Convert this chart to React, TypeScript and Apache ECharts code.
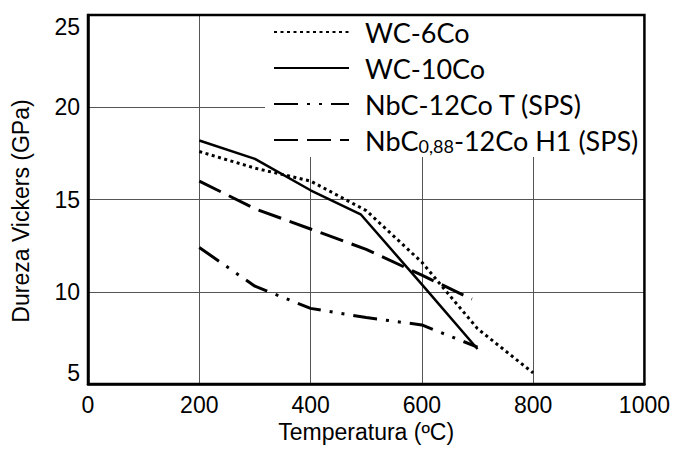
import React, { useEffect, useRef } from "react";
import * as echarts from "echarts";

const xTicks = [0, 200, 400, 600, 800, 1000];
const yTicks = [5, 10, 15, 20, 25];

const seriesNames = [
  "WC-6Co",
  "WC-10Co",
  "NbC-12Co T (SPS)",
  "NbC0,88-12Co H1 (SPS)",
];

const wc6Temp = [200, 300, 400, 500, 600, 700, 800];
const wc6Hv = [17.6, 16.7, 16.0, 14.4, 11.6, 8.0, 5.6];

const wc10Temp = [200, 300, 400, 490, 600, 700];
const wc10Hv = [18.2, 17.2, 15.5, 14.2, 10.4, 6.9];

const nbcTTemp = [200, 300, 400, 500, 600, 700];
const nbcTHv = [12.4, 10.3, 9.1, 8.6, 8.2, 7.0];

const nbc88Temp = [200, 300, 400, 500, 600, 690];
const nbc88Hv = [16.0, 14.5, 13.4, 12.3, 10.9, 9.6];

const zip = (xs: number[], ys: number[]) => xs.map((x, i) => [x, ys[i]]);

export default function App() {
  const ref = useRef<HTMLDivElement>(null);
  useEffect(() => {
    if (!ref.current) return;
    const chart = echarts.init(ref.current, undefined, { renderer: "svg" });
    const axisFont = { fontFamily: "Liberation Sans", fontSize: 23, color: "#000" };
    const mkLine = (type: any, width = 2.5) => ({ color: "#000", width, type });
    const base = {
      type: "line",
      symbol: "none",
      showSymbol: false,
      itemStyle: { color: "#000" },
    };
    chart.setOption({
      animation: false,
      backgroundColor: "#fff",
      grid: {
        left: 88,
        top: 15,
        right: 24,
        bottom: 68,
        show: true,
        z: 3,
        borderColor: "#000",
        borderWidth: 2.5,
        backgroundColor: "transparent",
      },
      legend: {
        orient: "vertical",
        left: 265,
        top: 16,
        z: 1,
        backgroundColor: "#fff",
        padding: [1, 6, 2, 8],
        itemWidth: 75,
        itemHeight: 14,
        itemGap: 6,
        itemStyle: { opacity: 0 },
        data: seriesNames,
        formatter: (name: string) =>
          name === seriesNames[3] ? "NbC{sub|0,88}-12Co H1 (SPS)" : name,
        textStyle: {
          fontFamily: "Lato",
          fontSize: 27,
          color: "#000",
          lineHeight: 30,
          padding: [0, 0, 0, 11],
          rich: {
            sub: {
              fontFamily: "Lato",
              fontSize: 18,
              color: "#000",
              verticalAlign: "bottom",
              lineHeight: 30,
              padding: [10, 0, 0, 0],
            },
          },
        },
      },
      xAxis: {
        type: "value",
        min: 0,
        max: 1000,
        interval: 200,
        name: "Temperatura (ºC)",
        nameLocation: "middle",
        nameGap: 36,
        nameTextStyle: axisFont,
        axisLine: { show: true, lineStyle: { color: "#000", width: 2.5 } },
        axisTick: { show: false },
        axisLabel: {
          ...axisFont,
          margin: 9,
          customValues: xTicks,
          formatter: (v: number) => String(v),
        },
        splitLine: { show: true, lineStyle: { color: "#555", width: 1 } },
      },
      yAxis: {
        type: "value",
        min: 5,
        max: 25,
        interval: 5,
        name: "Dureza Vickers (GPa)",
        nameLocation: "middle",
        nameGap: 56,
        nameTextStyle: { ...axisFont, padding: [0, 23, 0, 0] },
        axisLine: { show: true, lineStyle: { color: "#000", width: 2.5 } },
        axisTick: { show: false },
        axisLabel: {
          ...axisFont,
          margin: 8,
          customValues: yTicks,
          formatter: (v: number) => String(v),
          verticalAlignMaxLabel: "top",
          verticalAlignMinLabel: "bottom",
        },
        splitLine: { show: true, lineStyle: { color: "#555", width: 1 } },
      },
      series: [
        {
          ...base,
          name: seriesNames[0],
          data: zip(wc6Temp, wc6Hv),
          lineStyle: mkLine([3, 3.5], 3),
        },
        {
          ...base,
          name: seriesNames[1],
          data: zip(wc10Temp, wc10Hv),
          lineStyle: mkLine("solid", 2.5),
        },
        {
          ...base,
          name: seriesNames[2],
          data: zip(nbcTTemp, nbcTHv),
          lineStyle: mkLine([24, 9, 3, 9, 3, 9], 3),
        },
        {
          ...base,
          name: seriesNames[3],
          data: zip(nbc88Temp, nbc88Hv),
          lineStyle: mkLine([24, 9], 3),
        },
      ],
    });
    return () => chart.dispose();
  }, []);
  return (
    <div
      ref={ref}
      style={{ position: "fixed", left: 0, top: 0, width: 673, height: 452 }}
    />
  );
}
